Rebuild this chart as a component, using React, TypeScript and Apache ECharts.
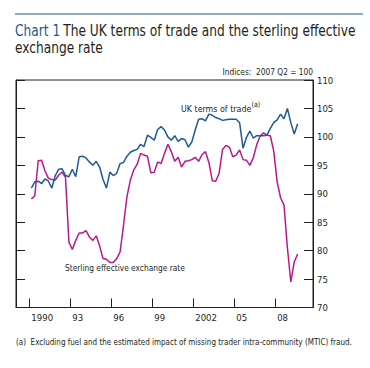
import React, { useEffect, useRef } from "react";
import * as echarts from "echarts";

// Quarterly categories 1989 Q1 .. 2010 Q3 (axis range)
const firstYear = 1989;
const quarterCount = 87;
// Data start: 1990 Q1
const dataStartIndex = 4;

// UK terms of trade (a), 1990 Q1 .. 2009 Q3, indices 2007 Q2 = 100
const termsOfTrade = [
  91.0, 92.1, 92.2, 91.8, 92.6, 92.2, 91.0, 93.2, 94.3, 94.4,
  93.2, 93.0, 94.3, 93.0, 96.5, 96.6, 96.3, 95.6, 95.0, 95.7,
  94.7, 92.5, 91.0, 93.8, 93.2, 93.6, 95.3, 95.5, 96.6, 97.3,
  97.6, 97.8, 98.7, 98.3, 100.3, 99.9, 99.4, 101.3, 101.8, 101.2,
  100.0, 99.4, 100.2, 99.2, 99.7, 99.5, 98.2, 99.1, 101.2, 103.1,
  103.2, 102.8, 104.0, 103.8, 103.4, 103.2, 102.9, 103.0, 103.1, 103.1,
  103.1, 102.5, 98.0, 99.9, 101.0, 99.8, 100.2, 100.2, 100.2, 100.3,
  101.5, 102.5, 103.0, 104.0, 103.2, 105.0, 102.5, 100.5, 102.3,
];

// Sterling effective exchange rate, 1990 Q1 .. 2009 Q3
const sterlingERI = [
  89.1, 89.6, 95.8, 95.9, 94.0, 92.7, 92.5, 92.4, 93.3, 93.8,
  92.9, 81.5, 80.2, 81.8, 83.1, 83.1, 83.5, 82.4, 81.8, 82.6,
  80.8, 78.6, 78.5, 77.9, 77.9, 78.6, 79.8, 84.5, 89.5, 92.4,
  94.2, 95.2, 97.1, 96.8, 96.6, 93.7, 93.8, 95.6, 95.3, 97.1,
  98.7, 97.4, 95.7, 96.4, 94.7, 95.7, 95.8, 96.0, 96.4, 95.7,
  96.9, 97.4, 95.5, 92.3, 92.2, 93.6, 97.8, 98.5, 98.2, 96.5,
  96.8, 97.7, 96.0, 95.9, 95.0, 96.3, 98.6, 100.1, 100.7, 100.3,
  100.2, 97.5, 92.1, 89.3, 88.0, 80.5, 74.5, 78.0, 79.4,
];

const tickYears = [1990, 1993, 1996, 1999, 2002, 2005, 2008];
const tickLabels = ["1990", "93", "96", "99", "2002", "05", "08"];

const yMin = 70;
const yMax = 110;
const yStep = 5;

const FONT = "'DejaVu Sans Condensed', 'Liberation Sans Narrow', sans-serif";
const BLUE = "#1f5a96";
const MAGENTA = "#b8188f";
const INK = "#231f20";

export default function App() {
  const ref = useRef<HTMLDivElement>(null);

  useEffect(() => {
    if (!ref.current) return;
    const chart = echarts.init(ref.current, undefined, { renderer: "svg" });

    const categories: string[] = [];
    for (let i = 0; i < quarterCount; i++) {
      const y = firstYear + Math.floor(i / 4);
      categories.push(`${y} Q${(i % 4) + 1}`);
    }
    const pad = (arr: number[]) => {
      const out: (number | null)[] = [];
      for (let i = 0; i < quarterCount; i++) {
        const j = i - dataStartIndex;
        out.push(j >= 0 && j < arr.length ? arr[j] : null);
      }
      return out;
    };
    const tickSet = new Set(tickYears.map((y) => `${y} Q1`));
    const showTick = (_i: number, v: string) => tickSet.has(v);

    chart.setOption({
      animation: false,
      grid: {
        left: 16,
        right: 57,
        top: 80,
        bottom: 60.5,
        show: true,
        borderColor: INK,
        borderWidth: 1,
        backgroundColor: "transparent",
      },
      xAxis: {
        type: "category",
        data: categories,
        boundaryGap: true,
        axisLine: { show: true, lineStyle: { color: INK, width: 1 } },
        axisTick: {
          show: true,
          inside: true,
          length: 9,
          interval: showTick,
          lineStyle: { color: INK, width: 1 },
        },
        axisLabel: {
          interval: showTick,
          align: "left",
          margin: 5,
          fontFamily: FONT,
          fontSize: 9.5,
          color: INK,
          formatter: (v: string) => {
            const y = parseInt(v, 10);
            const k = tickYears.indexOf(y);
            return k >= 0 ? tickLabels[k] : "";
          },
        },
        splitLine: { show: false },
      },
      yAxis: [
        {
          type: "value",
          position: "right",
          min: yMin,
          max: yMax,
          interval: yStep,
          axisLine: { show: true, lineStyle: { color: INK, width: 1 } },
          axisTick: { show: true, inside: true, length: 9, lineStyle: { color: INK, width: 1 } },
          axisLabel: { margin: 4, fontFamily: FONT, fontSize: 9.5, color: INK },
          splitLine: { show: false },
        },
        {
          type: "value",
          position: "left",
          min: yMin,
          max: yMax,
          interval: yStep,
          axisLine: { show: true, lineStyle: { color: INK, width: 1 } },
          axisTick: { show: true, inside: true, length: 9, lineStyle: { color: INK, width: 1 } },
          axisLabel: { show: false },
          splitLine: { show: false },
        },
      ],
      series: [
        {
          name: "Sterling effective exchange rate",
          type: "line",
          yAxisIndex: 0,
          data: pad(sterlingERI),
          showSymbol: false,
          symbol: "none",
          lineStyle: { color: MAGENTA, width: 1.5 },
          itemStyle: { color: MAGENTA },
        },
        {
          name: "UK terms of trade",
          type: "line",
          yAxisIndex: 0,
          data: pad(termsOfTrade),
          showSymbol: false,
          symbol: "none",
          lineStyle: { color: BLUE, width: 1.5 },
          itemStyle: { color: BLUE },
        },
      ],
      graphic: [
        {
          type: "line",
          shape: { x1: 15, y1: 14, x2: 363, y2: 14 },
          style: { stroke: "#1d5a92", lineWidth: 1.2 },
        },
        {
          type: "text",
          x: 15,
          y: 22,
          scaleX: 0.905,
          style: {
            text: "{a|Chart 1} {b|The UK terms of trade and the sterling effective}\n{b|exchange rate}",
            verticalAlign: "top",
            rich: {
              a: { fontFamily: FONT, fontSize: 15, fill: "#1d5a92", lineHeight: 17 },
              b: { fontFamily: FONT, fontSize: 15, fill: INK, lineHeight: 17 },
            },
          },
        },
        {
          type: "text",
          x: 313,
          y: 67,
          scaleX: 0.92,
          style: {
            text: "Indices:  2007 Q2 = 100",
            align: "right",
            verticalAlign: "top",
            fontFamily: FONT,
            fontSize: 9,
            fill: INK,
          },
        },
        {
          type: "text",
          x: 181,
          y: 100,
          scaleX: 0.93,
          style: {
            text: "{a|UK terms of trade}{b|(a)}",
            verticalAlign: "top",
            rich: {
              a: { fontFamily: FONT, fontSize: 9.5, fill: INK, lineHeight: 13, verticalAlign: "bottom" },
              b: { fontFamily: FONT, fontSize: 7.5, fill: INK, lineHeight: 13, verticalAlign: "top" },
            },
          },
        },
        {
          type: "text",
          x: 65,
          y: 263,
          scaleX: 0.875,
          style: {
            text: "Sterling effective exchange rate",
            verticalAlign: "top",
            fontFamily: FONT,
            fontSize: 9.5,
            fill: INK,
          },
        },
        {
          type: "text",
          x: 16,
          y: 338,
          scaleX: 1.0,
          style: {
            text: "(a)  Excluding fuel and the estimated impact of missing trader intra-community (MTIC) fraud.",
            verticalAlign: "top",
            fontFamily: FONT,
            fontSize: 8,
            fill: INK,
          },
        },
      ],
    });

    return () => chart.dispose();
  }, []);

  return (
    <div
      ref={ref}
      style={{ position: "fixed", left: 0, top: 0, width: 370, height: 368, background: "#fff" }}
    />
  );
}
